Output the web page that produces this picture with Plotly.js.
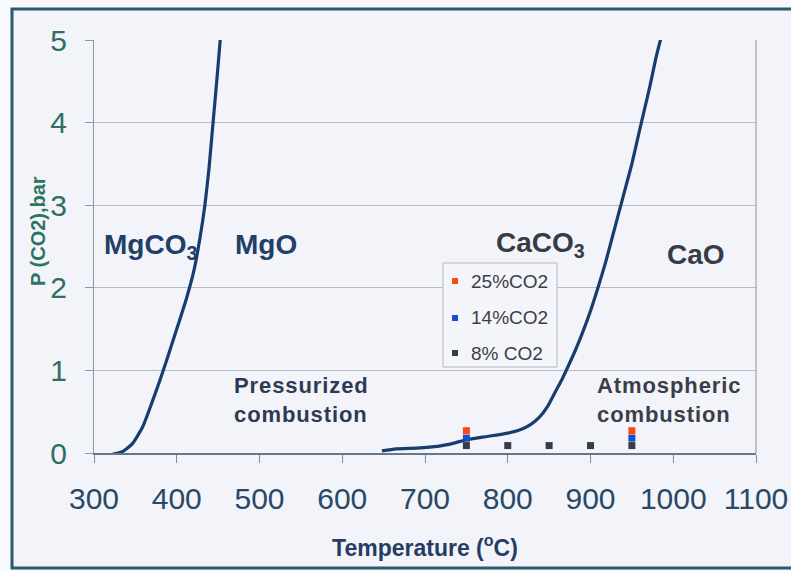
<!DOCTYPE html>
<html>
<head>
<meta charset="utf-8">
<script src="https://cdn.plot.ly/plotly-3.0.1.min.js"></script>
<style>
  html, body { margin: 0; padding: 0; background: #f8f9fc; }
  #chart { width: 791px; height: 571px; }
</style>
</head>
<body>
<div id="chart"></div>
<script>
// Decomposition equilibrium curves: CO2 pressure (bar) vs temperature (°C)
const mgco3Temp = [316, 335, 347, 359, 370, 380, 388, 400, 412, 421, 428, 434, 439, 443, 447, 450, 453];
const mgco3P    = [-0.03, 0.02, 0.12, 0.32, 0.61, 0.89, 1.13, 1.5, 1.88, 2.22, 2.6, 3.0, 3.45, 3.9, 4.35, 4.7, 5.06];

const caco3Temp = [648, 665, 690, 715, 735, 750, 775, 800, 815, 827, 838, 848, 858, 866, 873, 882, 892, 901, 909, 918, 926, 934, 942, 950, 958, 965, 972, 979, 986];
const caco3P    = [0.025, 0.05, 0.06, 0.08, 0.12, 0.16, 0.2, 0.24, 0.28, 0.34, 0.43, 0.56, 0.75, 0.9, 1.05, 1.25, 1.5, 1.75, 2.0, 2.3, 2.6, 2.9, 3.2, 3.5, 3.85, 4.15, 4.45, 4.78, 5.06];

// Flue-gas CO2 partial pressures at operating temperatures
const seriesNames = ['25%CO2', '14%CO2', '8% CO2'];
const seriesColors = ['#ff4716', '#1550c6', '#353d49'];
const temp25 = [750, 950];
const p25    = [0.27, 0.27];
const temp14 = [750, 950];
const p14    = [0.18, 0.18];
const temp8  = [750, 800, 850, 900, 950];
const p8     = [0.09, 0.09, 0.09, 0.09, 0.09];

const xTicks = [300, 400, 500, 600, 700, 800, 900, 1000, 1100];
const yTicks = [0, 1, 2, 3, 4, 5];

const FONT = 'Liberation Sans, Arial, sans-serif';
const curveStyle = { color: '#173d6e', width: 3.2, shape: 'spline', smoothing: 0.5 };

const traces = [
  { x: mgco3Temp, y: mgco3P, mode: 'lines', line: curveStyle, showlegend: false, hoverinfo: 'skip' },
  { x: caco3Temp, y: caco3P, mode: 'lines', line: curveStyle, showlegend: false, hoverinfo: 'skip' },
  { x: temp8,  y: p8,  mode: 'markers', name: seriesNames[2], marker: { symbol: 'square', size: 7, color: seriesColors[2] }, showlegend: false },
  { x: temp14, y: p14, mode: 'markers', name: seriesNames[1], marker: { symbol: 'square', size: 7, color: seriesColors[1] }, showlegend: false },
  { x: temp25, y: p25, mode: 'markers', name: seriesNames[0], marker: { symbol: 'square', size: 7, color: seriesColors[0] }, showlegend: false }
];

// Plot-area geometry used to place the frame and the boxed key in paper units
const plotL = 94, plotT = 40, plotW = 662, plotH = 413;
const px2x = p => (p - plotL) / plotW;
const py2y = p => (plotT + plotH - p) / plotH;

const shapes = [
  // outer frame
  { type: 'rect', xref: 'paper', yref: 'paper', x0: px2x(12), x1: px2x(800), y0: py2y(568), y1: py2y(9),
    line: { color: '#2a5a72', width: 3 }, fillcolor: '#f2f4fa', layer: 'below' },
  // key box
  { type: 'rect', xref: 'paper', yref: 'paper', x0: px2x(443), x1: px2x(557), y0: py2y(367), y1: py2y(263),
    line: { color: '#b4b8c0', width: 1 }, fillcolor: '#f4f5fa', layer: 'above' },
  // right-hand border of the plot area
  { type: 'line', xref: 'paper', yref: 'paper', x0: 1, x1: 1, y0: 0, y1: 1, line: { color: '#9ea3ab', width: 1.2 } }
];
const annotations = [];
const keyRows = [281, 318, 353];
seriesNames.forEach((name, i) => {
  const cy = keyRows[i];
  shapes.push({ type: 'rect', xref: 'paper', yref: 'paper',
    x0: px2x(452), x1: px2x(458), y0: py2y(cy + 3), y1: py2y(cy - 3),
    line: { width: 0 }, fillcolor: seriesColors[i], layer: 'above' });
  annotations.push({ xref: 'paper', yref: 'paper', x: px2x(469), y: py2y(cy), xanchor: 'left', yanchor: 'middle',
    text: name, showarrow: false, font: { family: FONT, size: 19, color: '#3a3e48' } });
});

const phaseFont = (c) => ({ family: FONT, size: 28, color: c });
const spaced = (s) => '<span style="letter-spacing:0.9px"><b>' + s + '</b></span>';
annotations.push(
  { x: 368, y: 2.5, xref: 'x', yref: 'y', text: '<b>MgCO<sub>3</sub></b>', showarrow: false, font: phaseFont('#213f67') },
  { x: 508, y: 2.52, xref: 'x', yref: 'y', text: '<b>MgO</b>', showarrow: false, font: phaseFont('#213f67') },
  { x: 840, y: 2.52, xref: 'x', yref: 'y', text: '<b>CaCO<sub>3</sub></b>', showarrow: false, font: phaseFont('#353b47') },
  { x: 1027, y: 2.4, xref: 'x', yref: 'y', text: '<b>CaO</b>', showarrow: false, font: phaseFont('#353b47') },
  { x: 467, y: 0.64, xref: 'x', yref: 'y', text: spaced('Pressurized') + '<br>' + spaced('combustion'), showarrow: false, align: 'left', xanchor: 'left',
    font: { family: FONT, size: 22, color: '#2e3a52' } },
  { x: 906, y: 0.64, xref: 'x', yref: 'y', text: spaced('Atmospheric') + '<br>' + spaced('combustion'), showarrow: false, align: 'left', xanchor: 'left',
    font: { family: FONT, size: 22, color: '#3a3e48' } },
  // y-axis title, placed beside the tick labels
  { xref: 'paper', yref: 'paper', x: px2x(38), y: py2y(231), text: '<b>P (CO2),bar</b>', textangle: -90, showarrow: false,
    xanchor: 'center', yanchor: 'middle', font: { family: FONT, size: 20, color: '#2e7462' } }
);

const layout = {
  width: 791, height: 571,
  margin: { l: 94, r: 35, t: 40, b: 118, pad: 0 },
  paper_bgcolor: '#f8f9fc',
  plot_bgcolor: '#f2f4fa',
  showlegend: false,
  xaxis: {
    range: [300, 1100], tickvals: xTicks, ticktext: xTicks.map(String),
    ticks: 'outside', ticklen: 8, tickcolor: '#7f8a9a', ticklabelstandoff: 10,
    showgrid: false, zeroline: false,
    showline: true, linecolor: '#65768e', linewidth: 1.5, mirror: false,
    tickfont: { family: FONT, size: 30, color: '#294866' },
    title: { text: '<b>Temperature (<sup>o</sup>C)</b>', font: { family: FONT, size: 23, color: '#263d63' }, standoff: 26 }
  },
  yaxis: {
    range: [0, 5], tickvals: yTicks,
    ticks: 'outside', ticklen: 8, tickcolor: '#8f98a6', ticklabelstandoff: 12,
    showgrid: true, gridcolor: '#b8bcc5', gridwidth: 1, zeroline: false,
    showline: true, linecolor: '#8d97a8', linewidth: 1, mirror: false,
    tickfont: { family: FONT, size: 30, color: '#2e6f62' }
  },
  shapes: shapes,
  annotations: annotations
};

Plotly.newPlot('chart', traces, layout, { staticPlot: true, displayModeBar: false });
</script>
</body>
</html>
